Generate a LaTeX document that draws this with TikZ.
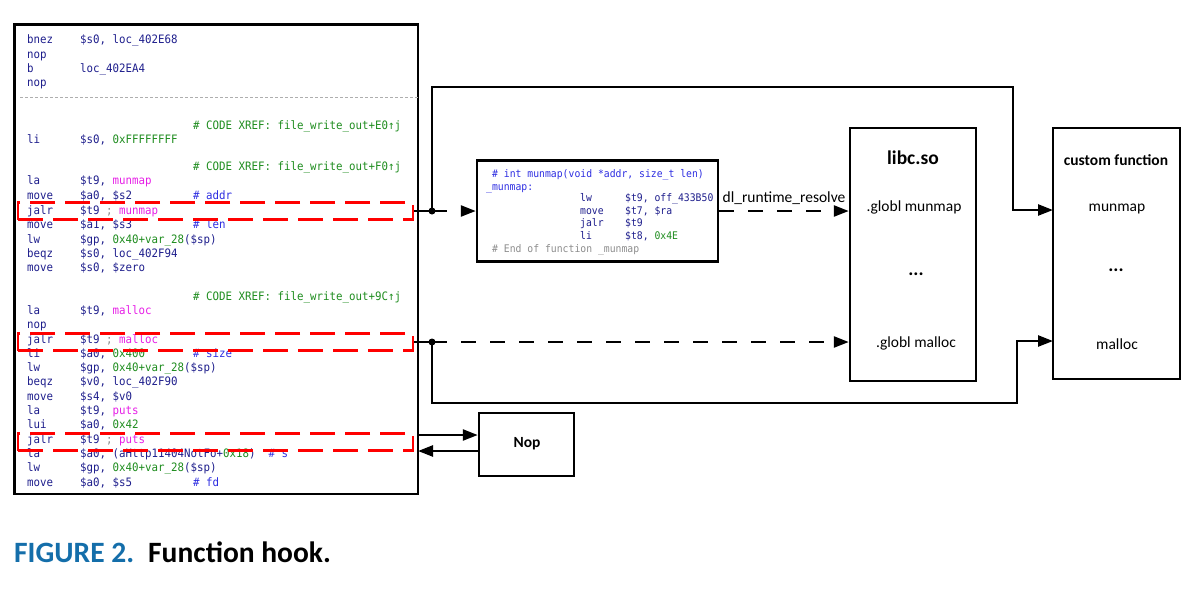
\documentclass[tikz,border=0pt]{standalone}
\usepackage{fontspec}
\setmainfont{Carlito}
\setsansfont{Carlito}
\setmonofont[FakeStretch=0.93]{DejaVu Sans Mono}
\usetikzlibrary{arrows.meta}
\definecolor{navy}{RGB}{30,30,140}
\definecolor{fmag}{RGB}{230,30,230}
\definecolor{fgreen}{RGB}{30,140,30}
\definecolor{fblue}{RGB}{45,45,225}
\definecolor{fgray}{RGB}{140,140,140}
\definecolor{capblue}{RGB}{20,110,170}
\newcommand{\mg}[1]{\textcolor{fmag}{#1}}
\newcommand{\gr}[1]{\textcolor{fgreen}{#1}}
\newcommand{\cm}[1]{\textcolor{fblue}{#1}}
\newcommand{\gy}[1]{\textcolor{fgray}{#1}}
\begin{document}
\begin{tikzpicture}[x=1pt,y=-1pt,
    box/.style={draw, line width=2.5pt, inner sep=0pt},
    hook/.style={draw=red, line width=2.5pt, dash pattern=on 25pt off 10pt, inner sep=0pt, minimum width=395, minimum height=17},
    code/.style={anchor=west, inner sep=0pt, text=navy, text height=8pt, text depth=2pt, font=\fontsize{11.6}{13}\ttfamily},
    scode/.style={code, font=\fontsize{10.5}{12}\ttfamily},
    lbl/.style={inner sep=0pt, text height=0.7em, text depth=0.2em, font=\fontsize{15.5}{17}\sffamily},
    dots/.style={lbl, font=\fontsize{19}{21}\sffamily\bfseries},
    line/.style={line width=2.5pt},
    dline/.style={line, dash pattern=on 15pt off 14pt},
    >={Triangle[length=15pt,width=11pt]}]
    \useasboundingbox (0,0) rectangle (1194,606);
    \node[box, minimum width=403.5, minimum height=469.5] (code) at (216.25,259.25) {};
    \draw[fgray!70, line width=0.8pt, dash pattern=on 3pt off 2pt] (20,97) -- (code.east |- 0,97);
    \foreach \y/\mn/\op in {40/bnez/{\$s0, loc\_402E68}, 55/nop/{}, 69/b/{loc\_402EA4}, 83/nop/{},
        140/li/{\$s0, \gr{0xFFFFFFFF}}, 181/la/{\$t9, \mg{munmap}}, 196/move/{\$a0, \$s2},
        211/jalr/{\$t9 \gy{;} \mg{munmap}}, 225/move/{\$a1, \$s3}, 240/lw/{\$gp, \gr{0x40+var\_28}(\$sp)},
        254/beqz/{\$s0, loc\_402F94}, 268/move/{\$s0, \$zero}, 311/la/{\$t9, \mg{malloc}}, 325/nop/{},
        340/jalr/{\$t9 \gy{;} \mg{malloc}}, 354/li/{\$a0, \gr{0x400}}, 368/lw/{\$gp, \gr{0x40+var\_28}(\$sp)},
        382/beqz/{\$v0, loc\_402F90}, 397/move/{\$s4, \$v0}, 411/la/{\$t9, \mg{puts}}, 425/lui/{\$a0, \gr{0x42}},
        440/jalr/{\$t9 \gy{;} \mg{puts}}, 454/la/{\$a0, (aHttp11404NotFo+\gr{0x18})~~\cm{\# s}},
        468/lw/{\$gp, \gr{0x40+var\_28}(\$sp)}, 483/move/{\$a0, \$s5}}
    {
        \node[code] (mn\y) at (27,\y) {\mn};
        \node[code] (op\y) at (80,\y) {\op};
    }
    \foreach \y/\c in {196/addr, 225/len, 354/size, 483/fd}
        \node[code, text=fblue] (cm\y) at (193,\y) {\#~\c};
    \foreach \y/\o in {126/E0, 167/F0, 297/9C}
        \node[code, text=fgreen] (xr\y) at (193,\y) {\#~CODE XREF: file\_write\_out+\o↑j};
    \node[hook] (hk1) at (215.5,211) {};
    \node[hook] (hk2) at (215.5,342) {};
    \node[hook] (hk3) at (215.5,442) {};
    \node[box, minimum width=241, minimum height=101] (stub) at (597.5,211) {};
    \node[scode, text=fblue] (sh1) at (492,174) {\#~int munmap(void *addr, size\_t len)};
    \node[scode, text=fblue] (sh2) at (486,187) {\_munmap:};
    \foreach \y/\mn/\op in {198/lw/{\$t9, off\_433B50}, 211/move/{\$t7, \$ra}, 223/jalr/{\$t9}, 236/li/{\$t8, \gr{0x4E}}}
    {
        \node[scode] (smn\y) at (580,\y) {\mn};
        \node[scode] (sop\y) at (625,\y) {\op};
    }
    \node[scode, text=fgray] (sh3) at (492,249) {\#~End of function \_munmap};
    \node[box, minimum width=126, minimum height=253] (libc) at (913,254.5) {};
    \node[lbl, font=\fontsize{19.5}{21}\sffamily\bfseries] (libct) at (913,162) {libc.so};
    \node[lbl] (lm1) at (914,209) {.globl munmap};
    \node[dots] (ld) at (916,273) {...};
    \node[lbl] (lm2) at (916,345) {.globl malloc};
    \node[box, minimum width=127, minimum height=251] (cust) at (1116.5,253.5) {};
    \node[lbl, font=\fontsize{15.5}{17}\sffamily\bfseries] (custt) at (1116,163) {custom function};
    \node[lbl] (cf1) at (1117,209) {munmap};
    \node[dots] (cd) at (1116,269) {...};
    \node[lbl] (cf2) at (1117,347) {malloc};
    \node[box, minimum width=95, minimum height=63] (nop) at (526.5,444.5) {};
    \node[lbl, font=\fontsize{15.5}{17}\sffamily\bfseries] (nopt) at (527,445) {Nop};
    \coordinate (jm) at (432,211);
    \coordinate (tm) at (1013,87);
    \coordinate (cm) at (1053,210);
    \coordinate (jc) at (432,342);
    \coordinate (bm) at (1017,403);
    \coordinate (cc) at (1053,341);
    \coordinate (np1) at (418,435);
    \coordinate (np2) at (418,451);
    \draw[line] (hk1.east) -- (jm);
    \fill (jm) circle (3.5);
    \draw[dline,->] (jm) -- (stub.west);
    \draw[line,->] (jm) |- (tm) |- (cm);
    \draw[dline,->] (stub.east) -- (stub.east -| libc.west) node[midway, above=5pt, lbl] (dlr) {dl\_runtime\_resolve};
    \draw[line] (hk2.east) -- (jc);
    \fill (jc) circle (3.5);
    \draw[dline,->] (jc) -- (jc -| libc.west);
    \draw[line,->] (jc) |- (bm) |- (cc);
    \draw[line,->] (np1) -- (np1 -| nop.west);
    \draw[line,->] (np2 -| nop.west) -- (np2);
    \node[anchor=base west, inner sep=0pt, font=\fontsize{29.5}{31}\sffamily\bfseries, text=capblue] (capnum) at (14,562) {FIGURE 2.};
    \node[anchor=base west, inner sep=0pt, font=\fontsize{29.5}{31}\sffamily\bfseries] (captxt) at (148,562) {Function hook.};
\end{tikzpicture}
\end{document}
